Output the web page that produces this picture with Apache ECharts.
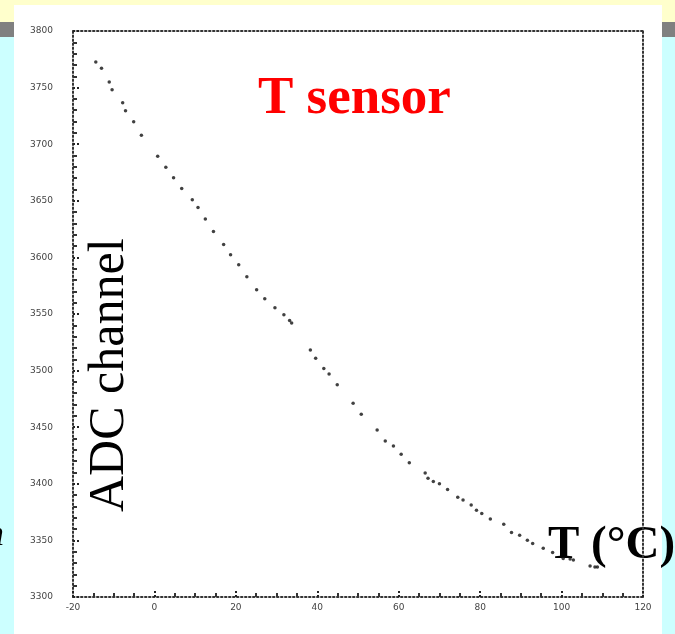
<!DOCTYPE html>
<html><head><meta charset="utf-8">
<script src="https://cdn.jsdelivr.net/npm/echarts@6/dist/echarts.min.js"></script>
<style>html,body{margin:0;padding:0;}#c{width:675px;height:634px;}</style>
</head><body><div id="c"></div>
<script>
const temperatures = [-14.4,-13.0,-11.1,-10.4,-7.8,-7.1,-5.1,-3.2,0.8,2.8,4.7,6.7,9.3,10.7,12.5,14.5,17.0,18.7,20.7,22.7,25.1,27.1,29.6,31.8,33.2,33.7,38.3,39.6,41.6,42.9,44.9,48.8,50.8,54.7,56.7,58.7,60.6,62.6,66.5,67.2,68.5,70.0,72.0,74.5,75.8,77.8,79.1,80.4,82.5,85.8,87.7,89.7,91.6,92.9,95.5,97.8,100.4,102.1,102.9,107.0,108.2,108.8];
const adcValues = [3772.6,3767,3755,3748,3736.6,3729.6,3719.8,3708,3689.4,3679.6,3670.3,3660.8,3651,3644,3634,3622.8,3611.3,3602.4,3593.6,3583,3571.5,3563.5,3555.5,3549.4,3544.2,3542,3518.3,3511,3501.8,3497,3487.6,3471.2,3461.4,3447.5,3437.8,3433.4,3426,3418.6,3409.5,3404.8,3402.1,3400,3395,3388.2,3385.6,3381.2,3376.7,3373.8,3368.8,3364.3,3357,3354.6,3350.2,3347.3,3343.1,3339.3,3334,3333.6,3332.7,3327.4,3326.5,3326.5];
const xTicks = [-20, 120, 20];
const yTicks = [3300, 3800, 50];

const points = temperatures.map((t, i) => [t, adcValues[i]]);
const dotted = {color: '#333', width: 2, type: [1.5, 2.5]};
const chart = echarts.init(document.getElementById('c'));
chart.setOption({
  animation: false,
  backgroundColor: '#ccffff',
  grid: {left: 73, right: 32, top: 31, bottom: 37},
  xAxis: [{
    type: 'value', min: xTicks[0], max: xTicks[1], interval: xTicks[2],
    axisLine: {show: true, onZero: false, lineStyle: dotted},
    axisTick: {show: true, inside: true, length: 8, lineStyle: {color: '#222', width: 2, type: [2, 2]}},
    minorTick: {show: true, splitNumber: 4, length: 4, lineStyle: {color: '#333', width: 2}},
    splitLine: {show: false},
    axisLabel: {fontSize: 9, color: '#444', margin: 6, fontFamily: 'DejaVu Sans', formatter: v => String(v)}
  }, {
    type: 'value', position: 'top', min: xTicks[0], max: xTicks[1],
    axisLine: {show: true, onZero: false, lineStyle: dotted},
    axisTick: {show: false}, axisLabel: {show: false}, splitLine: {show: false}
  }],
  yAxis: [{
    type: 'value', min: yTicks[0], max: yTicks[1], interval: yTicks[2],
    axisLine: {show: true, onZero: false, lineStyle: dotted},
    axisTick: {show: true, inside: true, length: 8, lineStyle: {color: '#222', width: 2, type: [2, 2]}},
    minorTick: {show: true, splitNumber: 5, length: 4, lineStyle: {color: '#333', width: 2}},
    splitLine: {show: false},
    axisLabel: {fontSize: 9, color: '#444', margin: 20, fontFamily: 'DejaVu Sans', formatter: v => String(v)}
  }, {
    type: 'value', position: 'right', min: yTicks[0], max: yTicks[1],
    axisLine: {show: true, onZero: false, lineStyle: dotted},
    axisTick: {show: false}, axisLabel: {show: false}, splitLine: {show: false}
  }],
  graphic: [
    {type: 'rect', z: -10, shape: {x: 0, y: 0, width: 675, height: 22}, style: {fill: '#ffffcc'}},
    {type: 'rect', z: -10, shape: {x: 0, y: 22, width: 675, height: 15}, style: {fill: '#808080'}},
    {type: 'rect', z: -9, shape: {x: 14, y: 5, width: 648, height: 629}, style: {fill: '#ffffff'}},
    {type: 'text', left: 258, top: 73, style: {text: 'T sensor', fill: '#ff0000', font: 'bold 53px "Liberation Serif"'}},
    {type: 'text', x: 85, y: 512, rotation: Math.PI / 2, style: {text: 'ADC channel', fill: '#000', font: '50px "Liberation Serif"', textVerticalAlign: 'top'}},
    {type: 'text', left: 548, top: 522, style: {text: 'T (°C)', fill: '#000', font: 'bold 47px "Liberation Serif"'}},
    {type: 'text', left: -14, top: 518, style: {text: 'n', fill: '#000', font: 'italic 36px "Liberation Serif"'}}
  ],
  series: [{
    type: 'scatter', data: points, symbol: 'circle', symbolSize: 3.5,
    itemStyle: {color: '#111'}
  }]
});
</script></body></html>
